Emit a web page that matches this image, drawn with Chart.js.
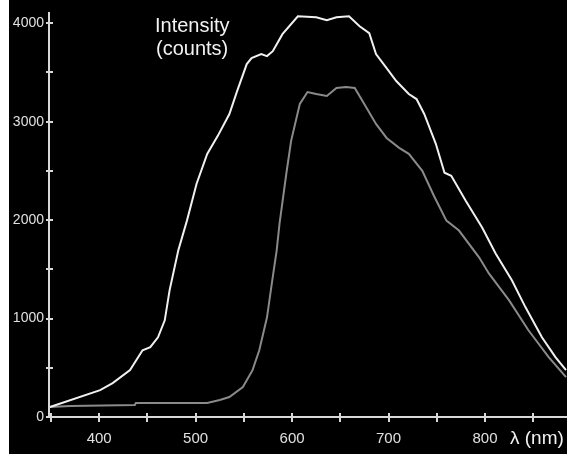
<!DOCTYPE html>
<html lang="en">
<head>
  <meta charset="UTF-8">
  <title>Emission spectrum</title>
  <script src="https://cdn.jsdelivr.net/npm/chart.js"></script>
  <style>
    html, body { margin: 0; padding: 0; background: #fff; }
    #wrap { width: 567px; height: 454px; }
  </style>
</head>
<body>
  <div id="wrap"><canvas id="spectrum" width="567" height="454"></canvas></div>

  <script>
    // wavelength (nm) / intensity (counts)
    const upperNm = [349, 401, 414, 432, 445, 453, 461, 468, 473, 482, 491, 501, 512, 523, 535, 543, 553, 558, 568, 574, 580, 590, 606, 625, 636, 646, 659, 670, 680, 687, 698, 708, 721, 729, 737, 749, 758, 765, 780, 797, 811, 828, 842, 859, 873, 884];
    const upperCounts = [101, 273, 344, 476, 678, 709, 810, 982, 1286, 1691, 1995, 2370, 2673, 2856, 3078, 3311, 3585, 3646, 3686, 3666, 3716, 3889, 4071, 4061, 4030, 4061, 4071, 3970, 3899, 3686, 3544, 3413, 3281, 3230, 3078, 2775, 2481, 2451, 2197, 1924, 1661, 1387, 1114, 810, 608, 476];

    const lowerNm = [349, 370, 437, 438, 512, 525, 535, 549, 559, 566, 574, 579, 584, 587, 594, 599, 608, 616, 625, 636, 646, 656, 665, 673, 687, 698, 711, 721, 735, 747, 760, 773, 794, 804, 825, 845, 866, 884];
    const lowerCounts = [101, 111, 122, 142, 142, 172, 203, 304, 476, 678, 1013, 1357, 1691, 1965, 2471, 2805, 3180, 3301, 3281, 3261, 3342, 3352, 3342, 3210, 2977, 2835, 2734, 2673, 2501, 2248, 1995, 1894, 1620, 1458, 1185, 881, 608, 405];

    const xLabels = [400, 500, 600, 700, 800];
    const yLabels = [0, 1000, 2000, 3000, 4000];
    const xMarks = [350, 400, 450, 500, 550, 600, 650, 700, 750, 800, 850];
    const yMarks = [0, 500, 1000, 1500, 2000, 2500, 3000, 3500, 4000];

    const axisColor = '#d8d8d8';
    const fontFamily = '"Liberation Sans", Arial, sans-serif';

    // black plot background, leaving the thin white strip on the left
    const backdrop = {
      id: 'backdrop',
      beforeDraw(chart) {
        const ctx = chart.ctx;
        ctx.save();
        ctx.fillStyle = '#000';
        ctx.fillRect(9, 0, chart.width - 9, chart.height);
        ctx.restore();
      }
    };

    // small cross-shaped tick marks + captions
    const marks = {
      id: 'marks',
      afterDraw(chart) {
        const ctx = chart.ctx;
        const xs = chart.scales.x, ys = chart.scales.y;
        const x0 = xs.left, y0 = ys.bottom;
        ctx.save();
        ctx.strokeStyle = axisColor;
        ctx.lineWidth = 2;
        ctx.beginPath();
        xs.ticks.forEach(t => {
          const px = Math.round(xs.getPixelForValue(t.value));
          ctx.moveTo(px, y0 - 4);
          ctx.lineTo(px, y0 + 5);
        });
        ys.ticks.forEach(t => {
          const py = Math.round(ys.getPixelForValue(t.value));
          ctx.moveTo(x0 - 3, py);
          ctx.lineTo(x0 + 4, py);
        });
        ctx.stroke();

        ctx.fillStyle = '#f2f2f2';
        ctx.font = '20px ' + fontFamily;
        ctx.textAlign = 'left';
        ctx.textBaseline = 'alphabetic';
        ctx.fillText('Intensity', 155, 32);
        ctx.fillText('(counts)', 156, 55);
        ctx.font = '19px ' + fontFamily;
        ctx.fillText('λ (nm)', 510, 444);
        ctx.restore();
      }
    };

    const toPoints = (xs, ys) => xs.map((x, i) => ({ x: x, y: ys[i] }));

    new Chart(document.getElementById('spectrum'), {
      type: 'line',
      data: {
        datasets: [
          {
            label: 'upper',
            data: toPoints(upperNm, upperCounts),
            borderColor: '#f0f0f0',
            borderWidth: 2,
            pointRadius: 0,
            tension: 0
          },
          {
            label: 'lower',
            data: toPoints(lowerNm, lowerCounts),
            borderColor: '#8a8a8a',
            borderWidth: 2,
            pointRadius: 0,
            tension: 0
          }
        ]
      },
      options: {
        responsive: false,
        animation: false,
        layout: { padding: { top: 12, right: 0, left: 0, bottom: 0 } },
        plugins: {
          legend: { display: false },
          tooltip: { enabled: false }
        },
        scales: {
          x: {
            type: 'linear',
            min: 348,
            max: 885,
            grid: { display: false, drawTicks: false },
            border: { display: true, color: axisColor, width: 2 },
            afterBuildTicks(scale) { scale.ticks = xMarks.map(v => ({ value: v })); },
            afterFit(scale) { scale.height = 37; },
            ticks: {
              autoSkip: false,
              maxRotation: 0,
              padding: 13,
              color: '#e0e0e0',
              font: { family: fontFamily, size: 15 },
              callback: v => xLabels.includes(v) ? String(v) : ''
            }
          },
          y: {
            min: 0,
            max: 4100,
            grid: { display: false, drawTicks: false },
            border: { display: true, color: axisColor, width: 2 },
            afterBuildTicks(scale) { scale.ticks = yMarks.map(v => ({ value: v })); },
            afterFit(scale) { scale.width = 49; },
            ticks: {
              autoSkip: false,
              padding: 5,
              color: '#e0e0e0',
              font: { family: fontFamily, size: 14 },
              callback: v => yLabels.includes(v) ? String(v) : ''
            }
          }
        }
      },
      plugins: [backdrop, marks]
    });
  </script>
</body>
</html>
